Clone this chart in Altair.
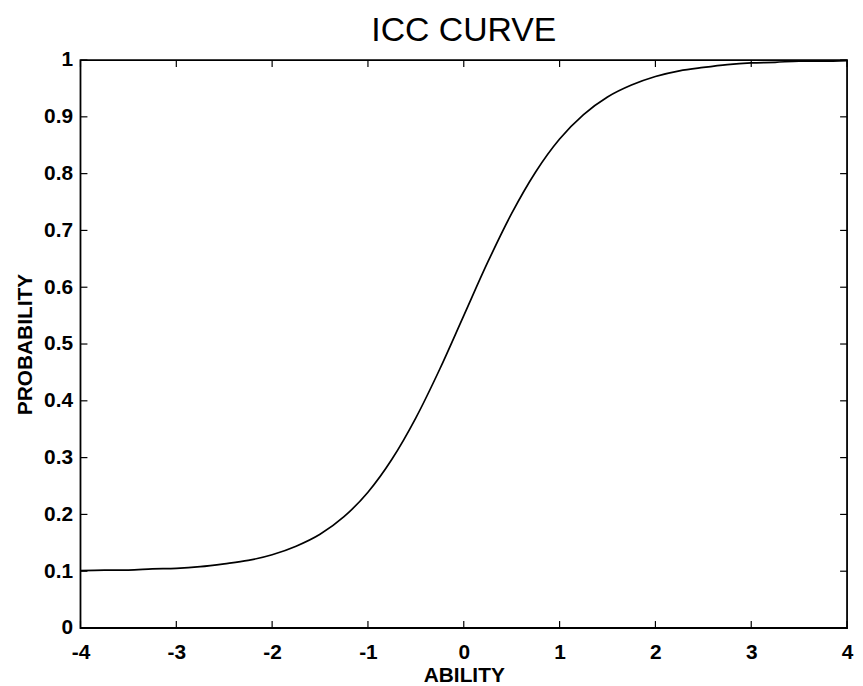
import altair as alt
import pandas as pd

# ability values and probabilities
ability = [-4.0, -3.75, -3.5, -3.25, -3.0, -2.75, -2.5, -2.25, -2.0, -1.75, -1.5, -1.25,
           -1.0, -0.75, -0.5, -0.25, 0.0, 0.25, 0.5, 0.75, 1.0, 1.25, 1.5, 1.75,
           2.0, 2.25, 2.5, 2.75, 3.0, 3.25, 3.5, 3.75, 4.0]
probability = [0.101, 0.102, 0.102, 0.104, 0.105, 0.108, 0.113, 0.119, 0.129, 0.144, 0.165, 0.196,
               0.239, 0.297, 0.370, 0.456, 0.550, 0.644, 0.730, 0.803, 0.861, 0.904, 0.935, 0.956,
               0.971, 0.981, 0.987, 0.992, 0.995, 0.996, 0.998, 0.998, 0.999]

x_ticks = [-4, -3, -2, -1, 0, 1, 2, 3, 4]
y_ticks = [0, 0.1, 0.2, 0.3, 0.4, 0.5, 0.6, 0.7, 0.8, 0.9, 1]
title_text = ["ICC CURVE"]

W, H = 772, 572
TICK = 7
FONT = "Liberation Sans"

curve = pd.DataFrame({"ability": ability, "probability": probability})
xt = pd.DataFrame({"v": x_ticks})
yt = pd.DataFrame({"v": y_ticks})
tt = pd.DataFrame({"t": title_text})

xscale = alt.Scale(domain=[-4, 4], nice=False, zero=False)
yscale = alt.Scale(domain=[0, 1], nice=False, zero=False)

line = alt.Chart(curve).mark_line(color="black", strokeWidth=1.7, interpolate="monotone").encode(
    x=alt.X("ability:Q", scale=xscale,
            axis=alt.Axis(title="ABILITY", values=x_ticks, labelExpr="'' + datum.value",
                          tickSize=0, domain=False, grid=False, labelPadding=14,
                          labelFlush=False, labelOverlap=False, labelBound=False,
                          labelFont=FONT, labelFontSize=21, labelFontWeight="bold",
                          labelColor="black", titleFont=FONT, titleFontSize=21,
                          titleFontWeight="bold", titleColor="black", titlePadding=2)),
    y=alt.Y("probability:Q", scale=yscale,
            axis=alt.Axis(title="PROBABILITY", values=y_ticks, labelExpr="'' + datum.value",
                          tickSize=0, domain=False, grid=False, labelPadding=8,
                          labelFlush=False, labelOverlap=False, labelBound=False,
                          labelFont=FONT, labelFontSize=21, labelFontWeight="bold",
                          labelColor="black", titleFont=FONT, titleFontSize=21,
                          titleFontWeight="bold", titleColor="black", titlePadding=8)),
)

tick_style = dict(color="black", strokeWidth=1.2)
bottom = alt.Chart(xt).mark_rule(**tick_style).encode(
    x=alt.X("v:Q", scale=xscale), y=alt.value(H), y2=alt.value(H - TICK))
top = alt.Chart(xt).mark_rule(**tick_style).encode(
    x=alt.X("v:Q", scale=xscale), y=alt.value(0), y2=alt.value(TICK))
left = alt.Chart(yt).mark_rule(**tick_style).encode(
    y=alt.Y("v:Q", scale=yscale), x=alt.value(0), x2=alt.value(TICK))
right = alt.Chart(yt).mark_rule(**tick_style).encode(
    y=alt.Y("v:Q", scale=yscale), x=alt.value(W), x2=alt.value(W - TICK))

title = alt.Chart(tt).mark_text(font=FONT, fontSize=34, fontWeight="normal", color="black",
                                align="center", baseline="alphabetic").encode(
    text="t:N", x=alt.value(W / 2), y=alt.value(-19))

chart = alt.layer(line, bottom, top, left, right, title).properties(
    width=W, height=H,
    background="white",
    autosize=alt.AutoSizeParams(type="none"),
    padding={"left": 73, "top": 50, "right": 8, "bottom": 56},
).configure_view(stroke="black", strokeWidth=1.8)

chart.save("out.html", embed_options={"renderer": "svg", "actions": False})
